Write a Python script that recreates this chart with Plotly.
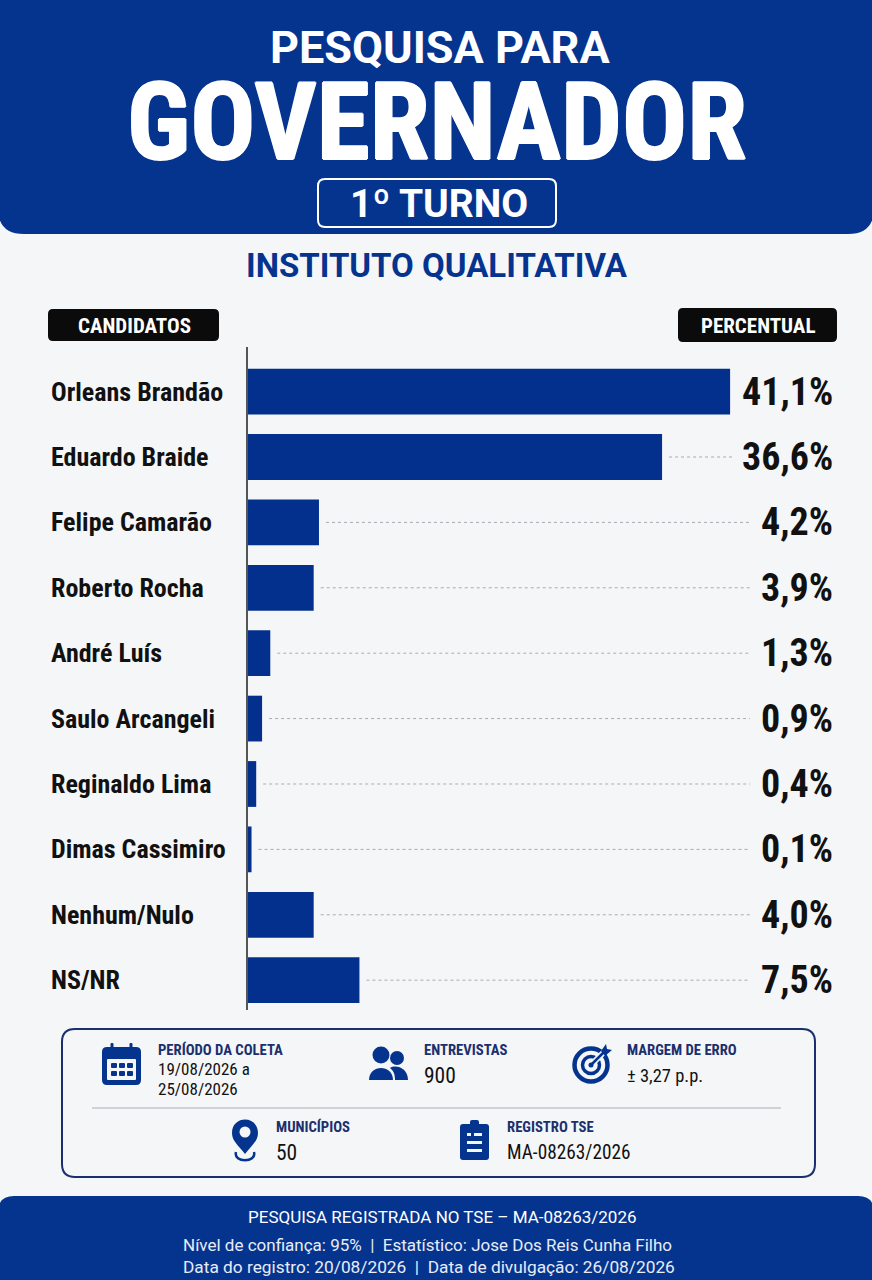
import plotly.graph_objects as go

W = 872
H = 1280

candidates = ['Orleans Brandão', 'Eduardo Braide', 'Felipe Camarão', 'Roberto Rocha', 'André Luís',
              'Saulo Arcangeli', 'Reginaldo Lima', 'Dimas Cassimiro', 'Nenhum/Nulo', 'NS/NR']
pct_labels = ['41,1%', '36,6%', '4,2%', '3,9%', '1,3%', '0,9%', '0,4%', '0,1%', '4,0%', '7,5%']
# bars in the source art are not to scale with the printed numbers, so these are read off the bars
bar_drawn = [41.1, 35.3, 6.05, 5.6, 1.9, 1.2, 0.7, 0.3, 5.6, 9.5]

BLUE = '#05348F'
BAR = '#03308C'
BG = '#F5F6F8'
INK = '#111111'
NAVY = '#1B2F6E'
NARROW = 'Roboto Condensed'
SANS = 'Roboto'

PX_PER_UNIT = 11.73
AXIS_X = 248


def px(x):
    return x / W


def py(y):
    return 1 - y / H


def pt(x, y):
    return f'{px(x):.5f},{py(y):.5f}'


def rounded(x0, y0, x1, y1, tl=0, tr=0, br=0, bl=0):
    return (f'M{pt(x0 + tl, y0)} L{pt(x1 - tr, y0)} Q{pt(x1, y0)} {pt(x1, y0 + tr)} '
            f'L{pt(x1, y1 - br)} Q{pt(x1, y1)} {pt(x1 - br, y1)} '
            f'L{pt(x0 + bl, y1)} Q{pt(x0, y1)} {pt(x0, y1 - bl)} '
            f'L{pt(x0, y0 + tl)} Q{pt(x0, y0)} {pt(x0 + tl, y0)} Z')


shapes = []
annotations = []


def box(x0, y0, x1, y1, r=0, fill=None, line=None, width=0, tl=None, tr=None, br=None, bl=None):
    shapes.append(dict(type='path', xref='paper', yref='paper', layer='below',
                       path=rounded(x0, y0, x1, y1, r if tl is None else tl, r if tr is None else tr,
                                    r if br is None else br, r if bl is None else bl),
                       fillcolor=fill if fill else 'rgba(0,0,0,0)',
                       line=dict(color=line if line else 'rgba(0,0,0,0)', width=width)))


def circle(cx, cy, r, fill=None, line=None, width=0):
    shapes.append(dict(type='circle', xref='paper', yref='paper', layer='below',
                       x0=px(cx - r), x1=px(cx + r), y0=py(cy + r), y1=py(cy - r),
                       fillcolor=fill if fill else 'rgba(0,0,0,0)',
                       line=dict(color=line if line else 'rgba(0,0,0,0)', width=width)))


def path(d, fill=None, line=None, width=0):
    shapes.append(dict(type='path', xref='paper', yref='paper', layer='below', path=d,
                       fillcolor=fill if fill else 'rgba(0,0,0,0)',
                       line=dict(color=line if line else 'rgba(0,0,0,0)', width=width)))


def txt(x, y, s, size, color=INK, anchor='left', family=NARROW, weight=400, shadow=None):
    font = dict(family=family, size=size, color=color, weight=weight)
    if shadow:
        font['shadow'] = shadow
    annotations.append(dict(xref='paper', yref='paper', x=px(x), y=py(y), text=s, showarrow=False,
                            xanchor=anchor, yanchor='middle', font=font, borderpad=0))


# header, footer and panels
box(-2, -2, W + 2, 234, fill=BLUE, br=26, bl=26)
box(-2, 1196, W + 2, H + 2, fill=BLUE, tl=16, tr=16)
box(318, 179, 556, 227, r=7, line='#FFFFFF', width=2)
box(48, 309, 219, 341, r=5, fill='#0B0B0B')
box(678, 308, 837, 342, r=5, fill='#0B0B0B')
box(62, 1029, 815, 1177, r=13, line=NAVY, width=2)
shapes.append(dict(type='line', xref='paper', yref='paper', layer='below', x0=px(92), x1=px(781),
                   y0=py(1108), y1=py(1108), line=dict(color='#C4C6CA', width=1.5)))

# calendar icon
box(102, 1047, 141, 1085, r=5, fill=BLUE)
box(107, 1059, 136, 1080, r=1, fill=BG)
for rx in [112, 131]:
    box(rx - 1.5, 1043, rx + 1.5, 1051, r=1, fill=BLUE)
for cx in [111, 119, 127]:
    for cy in [1063, 1071]:
        box(cx, cy, cx + 6, cy + 5, r=1, fill=BLUE)

# people icon
circle(381, 1055, 8.5, fill=BLUE)
circle(397, 1058, 7, fill=BLUE)
path(f'M{pt(369, 1080)} C{pt(369, 1064)} {pt(393, 1064)} {pt(393, 1080)} Z', fill=BLUE)
path(f'M{pt(395, 1080)} L{pt(408, 1080)} C{pt(408, 1068)} {pt(396, 1064)} {pt(390, 1068)} '
     f'C{pt(394, 1071)} {pt(395, 1075)} {pt(395, 1080)} Z', fill=BLUE)

# target icon
circle(591, 1065, 16.5, line=BLUE, width=4.5)
circle(591, 1065, 8.5, line=BLUE, width=3.5)
path(f'M{pt(591, 1065)} L{pt(611, 1045)}', line=BG, width=6)
circle(591, 1065, 2.5, fill=BLUE)
path(f'M{pt(591, 1065)} L{pt(604, 1052)}', line=BLUE, width=2.5)
path(f'M{pt(601, 1051)} L{pt(606, 1044)} L{pt(607, 1049)} L{pt(612, 1050)} L{pt(605, 1056)} Z', fill=BLUE)

# pin icon
path(f'M{pt(245, 1154)} C{pt(238, 1145)} {pt(232, 1141)} {pt(232, 1133)} '
     f'C{pt(232, 1115)} {pt(258, 1115)} {pt(258, 1133)} C{pt(258, 1141)} {pt(252, 1145)} {pt(245, 1154)} Z', fill=BLUE)
circle(245, 1132, 5.5, fill=BG)
path(f'M{pt(236, 1152)} C{pt(233, 1163)} {pt(257, 1163)} {pt(254, 1152)}', line=BLUE, width=2.5)

# clipboard icon
box(460, 1124, 489, 1160, r=3, fill=BLUE)
box(470, 1120, 479, 1128, r=2, fill=BLUE)
box(467, 1133, 471, 1136, fill=BG)
box(474, 1133, 482, 1136, fill=BG)
box(467, 1141, 482, 1144, fill=BG)
box(467, 1149, 482, 1152, fill=BG)

# header text
txt(440, 47, 'PESQUISA PARA', 45, '#FFFFFF', 'center', SANS, 700)
txt(437, 122, 'GOVERNADOR', 108, '#FFFFFF', 'center', NARROW, 700,
    shadow='1px 0 0 #FFFFFF, -1px 0 0 #FFFFFF, 0 1px 0 #FFFFFF, 0 -1px 0 #FFFFFF')
txt(439, 204, '1º TURNO', 39, '#FFFFFF', 'center', SANS, 700)
txt(437, 266, 'INSTITUTO QUALITATIVA', 33, BLUE, 'center', SANS, 700)
txt(134, 326, 'CANDIDATOS', 21, '#FFFFFF', 'center', NARROW, 700)
txt(758, 326, 'PERCENTUAL', 21, '#FFFFFF', 'center', NARROW, 700)

# info panel text
txt(157, 1050, 'PERÍODO DA COLETA', 14.7, NAVY, weight=700)
txt(157, 1069, '19/08/2026 a', 17)
txt(157, 1089, '25/08/2026', 17)
txt(423, 1050, 'ENTREVISTAS', 14.7, NAVY, weight=700)
txt(423, 1075, '900', 21.5)
txt(626, 1050, 'MARGEM DE ERRO', 14.7, NAVY, weight=700)
txt(626, 1076, '± 3,27 p.p.', 18.5)
txt(275, 1127, 'MUNICÍPIOS', 14.7, NAVY, weight=700)
txt(275, 1152, '50', 21.5)
txt(506, 1127, 'REGISTRO TSE', 14.7, NAVY, weight=700)
txt(506, 1152, 'MA-08263/2026', 19.3)

# footer text
txt(442, 1217, 'PESQUISA REGISTRADA NO TSE – MA-08263/2026', 17, '#FFFFFF', 'center', SANS)
txt(427, 1245, 'Nível de confiança: 95%  |  Estatístico: Jose Dos Reis Cunha Filho', 17, '#E8ECF5', 'center', SANS)
txt(429, 1267, 'Data do registro: 20/08/2026  |  Data de divulgação: 26/08/2026', 17.3, '#E8ECF5', 'center', SANS)

# rows: names, values and dotted leaders follow the category axis
for name, label, drawn in zip(candidates, pct_labels, bar_drawn):
    annotations.append(dict(xref='paper', yref='y', x=px(49), y=name, text=name, showarrow=False,
                            xanchor='left', yanchor='middle',
                            font=dict(family=NARROW, size=26, color=INK, weight=700)))
    annotations.append(dict(xref='paper', yref='y', x=px(835), y=name, text=label, showarrow=False,
                            xanchor='right', yanchor='middle',
                            font=dict(family=NARROW, size=38, color=INK, weight=700)))
    start = drawn + 7 / PX_PER_UNIT
    end = ((735 if len(label) > 4 else 750) - AXIS_X) / PX_PER_UNIT
    if start < end:
        shapes.append(dict(type='line', xref='x', yref='y', layer='below', x0=start, x1=end, y0=name, y1=name,
                           line=dict(color='#A9ABAF', width=1, dash='dot')))

fig = go.Figure()
fig.add_trace(go.Bar(x=bar_drawn, y=candidates, orientation='h', marker=dict(color=BAR, line=dict(width=0)),
                     hoverinfo='skip'))

fig.update_layout(width=W, height=H, autosize=False, margin=dict(l=0, r=0, t=0, b=0),
                  paper_bgcolor=BG, plot_bgcolor='rgba(0,0,0,0)', showlegend=False, bargap=0.3,
                  shapes=shapes, annotations=annotations)
fig.update_xaxes(domain=[px(AXIS_X), px(832)], range=[0, (832 - AXIS_X) / PX_PER_UNIT], visible=False, fixedrange=True)
fig.update_yaxes(domain=[py(1010), py(347)], type='category', categoryorder='array', categoryarray=candidates,
                 range=[9.456, -0.682], showticklabels=False, ticks='', showgrid=False, zeroline=False,
                 showline=True, linecolor='#555555', linewidth=2, anchor='x', fixedrange=True)

fig.write_html('out.html', post_script="document.body.style.margin='0';document.body.style.overflow='hidden';",
               config=dict(displayModeBar=False))
